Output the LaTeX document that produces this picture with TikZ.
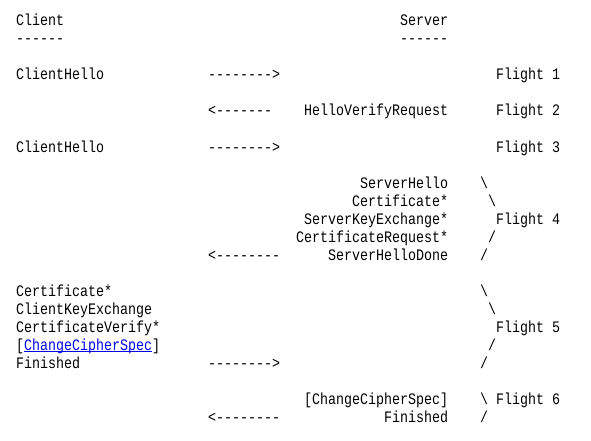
\documentclass[tikz,border=0pt]{standalone}
\usepackage{fontspec}
\setmonofont[FakeStretch=0.8333]{Liberation Mono}
\definecolor{linkblue}{RGB}{0,0,238}
\tikzset{
every node/.style={font=\ttfamily\fontsize{16pt}{18pt}\selectfont, inner sep=0pt}, % all text is monospaced
txt/.style={anchor=base west}, % a column of text starts here
}

\begin{document}
\begin{tikzpicture}[x=8pt, y=-18pt, shift={(16pt,-26pt)}]
\useasboundingbox (-16pt,26pt) rectangle (575pt,-415pt);

\node[txt] (client) at (0,0) {Client};
\node[txt] (server) at (48,0) {Server};
\node[txt] (clientrule) at (0,1) {------};
\node[txt] (serverrule) at (48,1) {------};

% flights 1 - 3
\node[txt] (hello1) at (0,3) {ClientHello};
\node[txt] (arr1) at (24,3) {-------->};
\node[txt] (flight1) at (60,3) {Flight 1};

\node[txt] (arr2) at (24,5) {<-------};
\node[txt] (hvr) at (36,5) {HelloVerifyRequest};
\node[txt] (flight2) at (60,5) {Flight 2};

\node[txt] (hello2) at (0,7) {ClientHello};
\node[txt] (arr3) at (24,7) {-------->};
\node[txt] (flight3) at (60,7) {Flight 3};

% flight 4
\node[txt] (shello) at (43,9) {ServerHello};
\node[txt] (scert) at (42,10) {Certificate*};
\node[txt] (ske) at (36,11) {ServerKeyExchange*};
\node[txt] (creq) at (35,12) {CertificateRequest*};
\node[txt] (shd) at (39,13) {ServerHelloDone};
\node[txt] (arr4) at (24,13) {<--------};
\node[txt] (b4a) at (58,9) {\textbackslash};
\node[txt] (b4b) at (59,10) {\textbackslash};
\node[txt] (flight4) at (60,11) {Flight 4};
\node[txt] (s4a) at (59,12) {/};
\node[txt] (s4b) at (58,13) {/};

% flight 5
\node[txt] (ccert) at (0,15) {Certificate*};
\node[txt] (cke) at (0,16) {ClientKeyExchange};
\node[txt] (cv) at (0,17) {CertificateVerify*};
\node[txt] (cccs) at (0,18) {[\textcolor{linkblue}{ChangeCipherSpec\llap{\rule[-2pt]{128pt}{0.8pt}}}]};
\node[txt] (cfin) at (0,19) {Finished};
\node[txt] (arr5) at (24,19) {-------->};
\node[txt] (b5a) at (58,15) {\textbackslash};
\node[txt] (b5b) at (59,16) {\textbackslash};
\node[txt] (flight5) at (60,17) {Flight 5};
\node[txt] (s5a) at (59,18) {/};
\node[txt] (s5b) at (58,19) {/};

% flight 6
\node[txt] (sccs) at (36,21) {[ChangeCipherSpec]};
\node[txt] (b6) at (58,21) {\textbackslash};
\node[txt] (flight6) at (60,21) {Flight 6};
\node[txt] (arr6) at (24,22) {<--------};
\node[txt] (sfin) at (46,22) {Finished};
\node[txt] (s6) at (58,22) {/};

\end{tikzpicture}
\end{document}
